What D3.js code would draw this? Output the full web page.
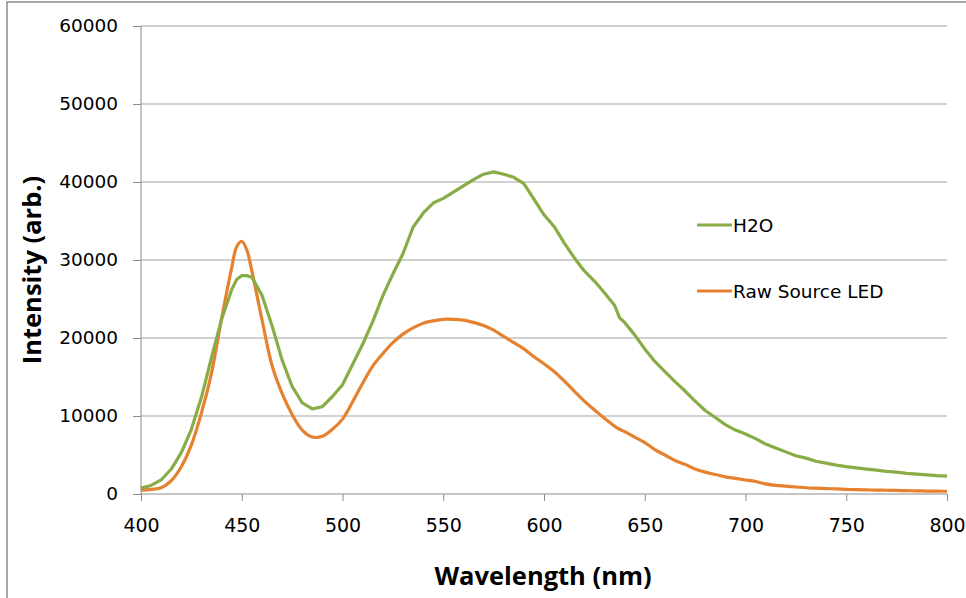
<!DOCTYPE html>
<html>
<head>
<meta charset="utf-8">
<script src="https://cdn.jsdelivr.net/npm/d3@7"></script>
<style>
  body { margin: 0; background: #fff; }
  svg { display: block; }
</style>
</head>
<body>
<svg width="966" height="598"></svg>
<script>
// wavelength samples (nm)
let wavelengths = [400,405,410,415,420,425,430,435,440,445,447.5,450,452.5,455,460,465,470,475,480,485,490,495,
  500,505,510,515,520,525,530,535,540,545,550,555,560,565,570,575,580,585,590,595,
  600,605,610,615,620,625,630,635,637.5,640,645,650,655,660,665,670,675,680,685,690,695,
  700,705,710,715,720,725,730,735,740,745,750,755,760,765,770,775,780,785,790,795,800];

// H2O intensity (arb.)
let h2oValues = [750,1100,1800,3200,5300,8300,12400,17500,22400,26200,27500,28000,28000,27800,25500,21600,17200,13800,11700,10900,11200,12500,
  14000,16600,19200,22100,25400,28200,30800,34200,36000,37300,37900,38700,39500,40300,41000,41300,41000,40600,39800,37800,
  35800,34300,32200,30300,28600,27300,25800,24200,22600,22000,20400,18600,17000,15700,14400,13200,11900,10700,9800,8900,8200,
  7700,7100,6400,5900,5400,4900,4600,4200,3950,3700,3500,3350,3200,3050,2900,2800,2650,2550,2450,2350,2300];

// Raw source LED intensity (arb.)
let ledValues = [500,600,800,1700,3500,6300,10400,15500,22500,29000,31700,32400,31300,28600,22400,16500,12900,10200,8200,7300,7400,8300,
  9600,11800,14200,16400,18000,19400,20500,21300,21900,22200,22400,22400,22300,22000,21600,21000,20200,19400,18600,17600,
  16700,15700,14500,13200,11900,10800,9700,8700,8300,8000,7300,6600,5700,5000,4300,3800,3200,2800,2500,2200,2000,
  1800,1600,1300,1100,1000,900,800,750,700,650,600,550,520,500,480,460,430,400,380,360,350];

let seriesNames = ["H2O", "Raw Source LED"];
let seriesColors = ["#88ac46", "#e6812f"];
let xTicks = [400,450,500,550,600,650,700,750,800];
let yTicks = [0,10000,20000,30000,40000,50000,60000];

let plotLeft = 141, plotRight = 947, plotTop = 26, plotBottom = 494;

var svg = d3.select("svg");

// outer frame of the chart area
svg.append("rect")
   .attr("x", 7).attr("y", 2)
   .attr("width", 980).attr("height", 620)
   .attr("fill", "none")
   .attr("stroke", "#8c8c8c")
   .attr("stroke-width", 1.5);

var x = d3.scaleLinear().domain([400, 800]).range([plotLeft, plotRight]);
var y = d3.scaleLinear().domain([0, 60000]).range([plotBottom, plotTop]);

// horizontal gridlines
svg.append("g")
   .selectAll("line")
   .data(yTicks.slice(1))
   .join("line")
   .attr("x1", plotLeft).attr("x2", plotRight)
   .attr("y1", d => y(d)).attr("y2", d => y(d))
   .attr("stroke", "#a3a3a3")
   .attr("stroke-width", 1);

// y axis
var yAxis = svg.append("g")
   .attr("transform", "translate(" + plotLeft + ",0)")
   .call(d3.axisLeft(y).tickValues(yTicks).tickSize(8).tickPadding(15).tickFormat(d3.format("d")));
yAxis.select(".domain").attr("stroke", "#8c8c8c").attr("d", "M0," + plotTop + "V" + plotBottom);
yAxis.selectAll(".tick line").attr("stroke", "#8c8c8c");
yAxis.selectAll("text")
   .attr("font-family", "DejaVu Sans")
   .attr("font-size", 18.5)
   .attr("fill", "#000");

// x axis
var xAxis = svg.append("g")
   .attr("transform", "translate(0," + plotBottom + ")")
   .call(d3.axisBottom(x).tickValues(xTicks).tickSize(7).tickPadding(18).tickFormat(d3.format("d")));
xAxis.select(".domain").attr("stroke", "#8c8c8c").attr("d", "M" + plotLeft + ",0H" + plotRight);
xAxis.selectAll(".tick line").attr("stroke", "#8c8c8c");
xAxis.selectAll("text")
   .attr("font-family", "DejaVu Sans")
   .attr("font-size", 19)
   .attr("fill", "#000");

// data lines
let h2oData = wavelengths.map((w, i) => ({w: w, v: h2oValues[i]}));
let ledData = wavelengths.map((w, i) => ({w: w, v: ledValues[i]}));

let smoothLine = d3.line()
    .x(d => x(d.w))
    .y(d => y(d.v))
    .curve(d3.curveCatmullRom);

let roughLine = d3.line()
    .x(d => x(d.w))
    .y(d => y(d.v));

svg.append("path")
   .datum(ledData)
   .attr("fill", "none")
   .attr("stroke", seriesColors[1])
   .attr("stroke-width", 3.2)
   .attr("stroke-linejoin", "round")
   .attr("d", smoothLine);

svg.append("path")
   .datum(h2oData)
   .attr("fill", "none")
   .attr("stroke", seriesColors[0])
   .attr("stroke-width", 3.2)
   .attr("stroke-linejoin", "round")
   .attr("d", roughLine);

// legend
let legendY = [225, 291];
var legend = svg.append("g");
seriesNames.forEach(function(name, i) {
    legend.append("line")
      .attr("x1", 697).attr("x2", 732)
      .attr("y1", legendY[i]).attr("y2", legendY[i])
      .attr("stroke", seriesColors[i])
      .attr("stroke-width", 3);
    legend.append("text")
      .attr("x", 733).attr("y", legendY[i] + 7)
      .attr("font-family", "DejaVu Sans")
      .attr("font-size", 18.5)
      .text(name);
});

// axis titles
svg.append("text")
   .attr("x", 543)
   .attr("y", 585)
   .attr("text-anchor", "middle")
   .attr("font-family", "Open Sans")
   .attr("font-weight", "bold")
   .attr("font-size", 25.5)
   .text("Wavelength (nm)");

svg.append("text")
   .attr("transform", "translate(41,270) rotate(-90)")
   .attr("text-anchor", "middle")
   .attr("font-family", "Open Sans")
   .attr("font-weight", "bold")
   .attr("font-size", 25.5)
   .text("Intensity (arb.)");
</script>
</body>
</html>
